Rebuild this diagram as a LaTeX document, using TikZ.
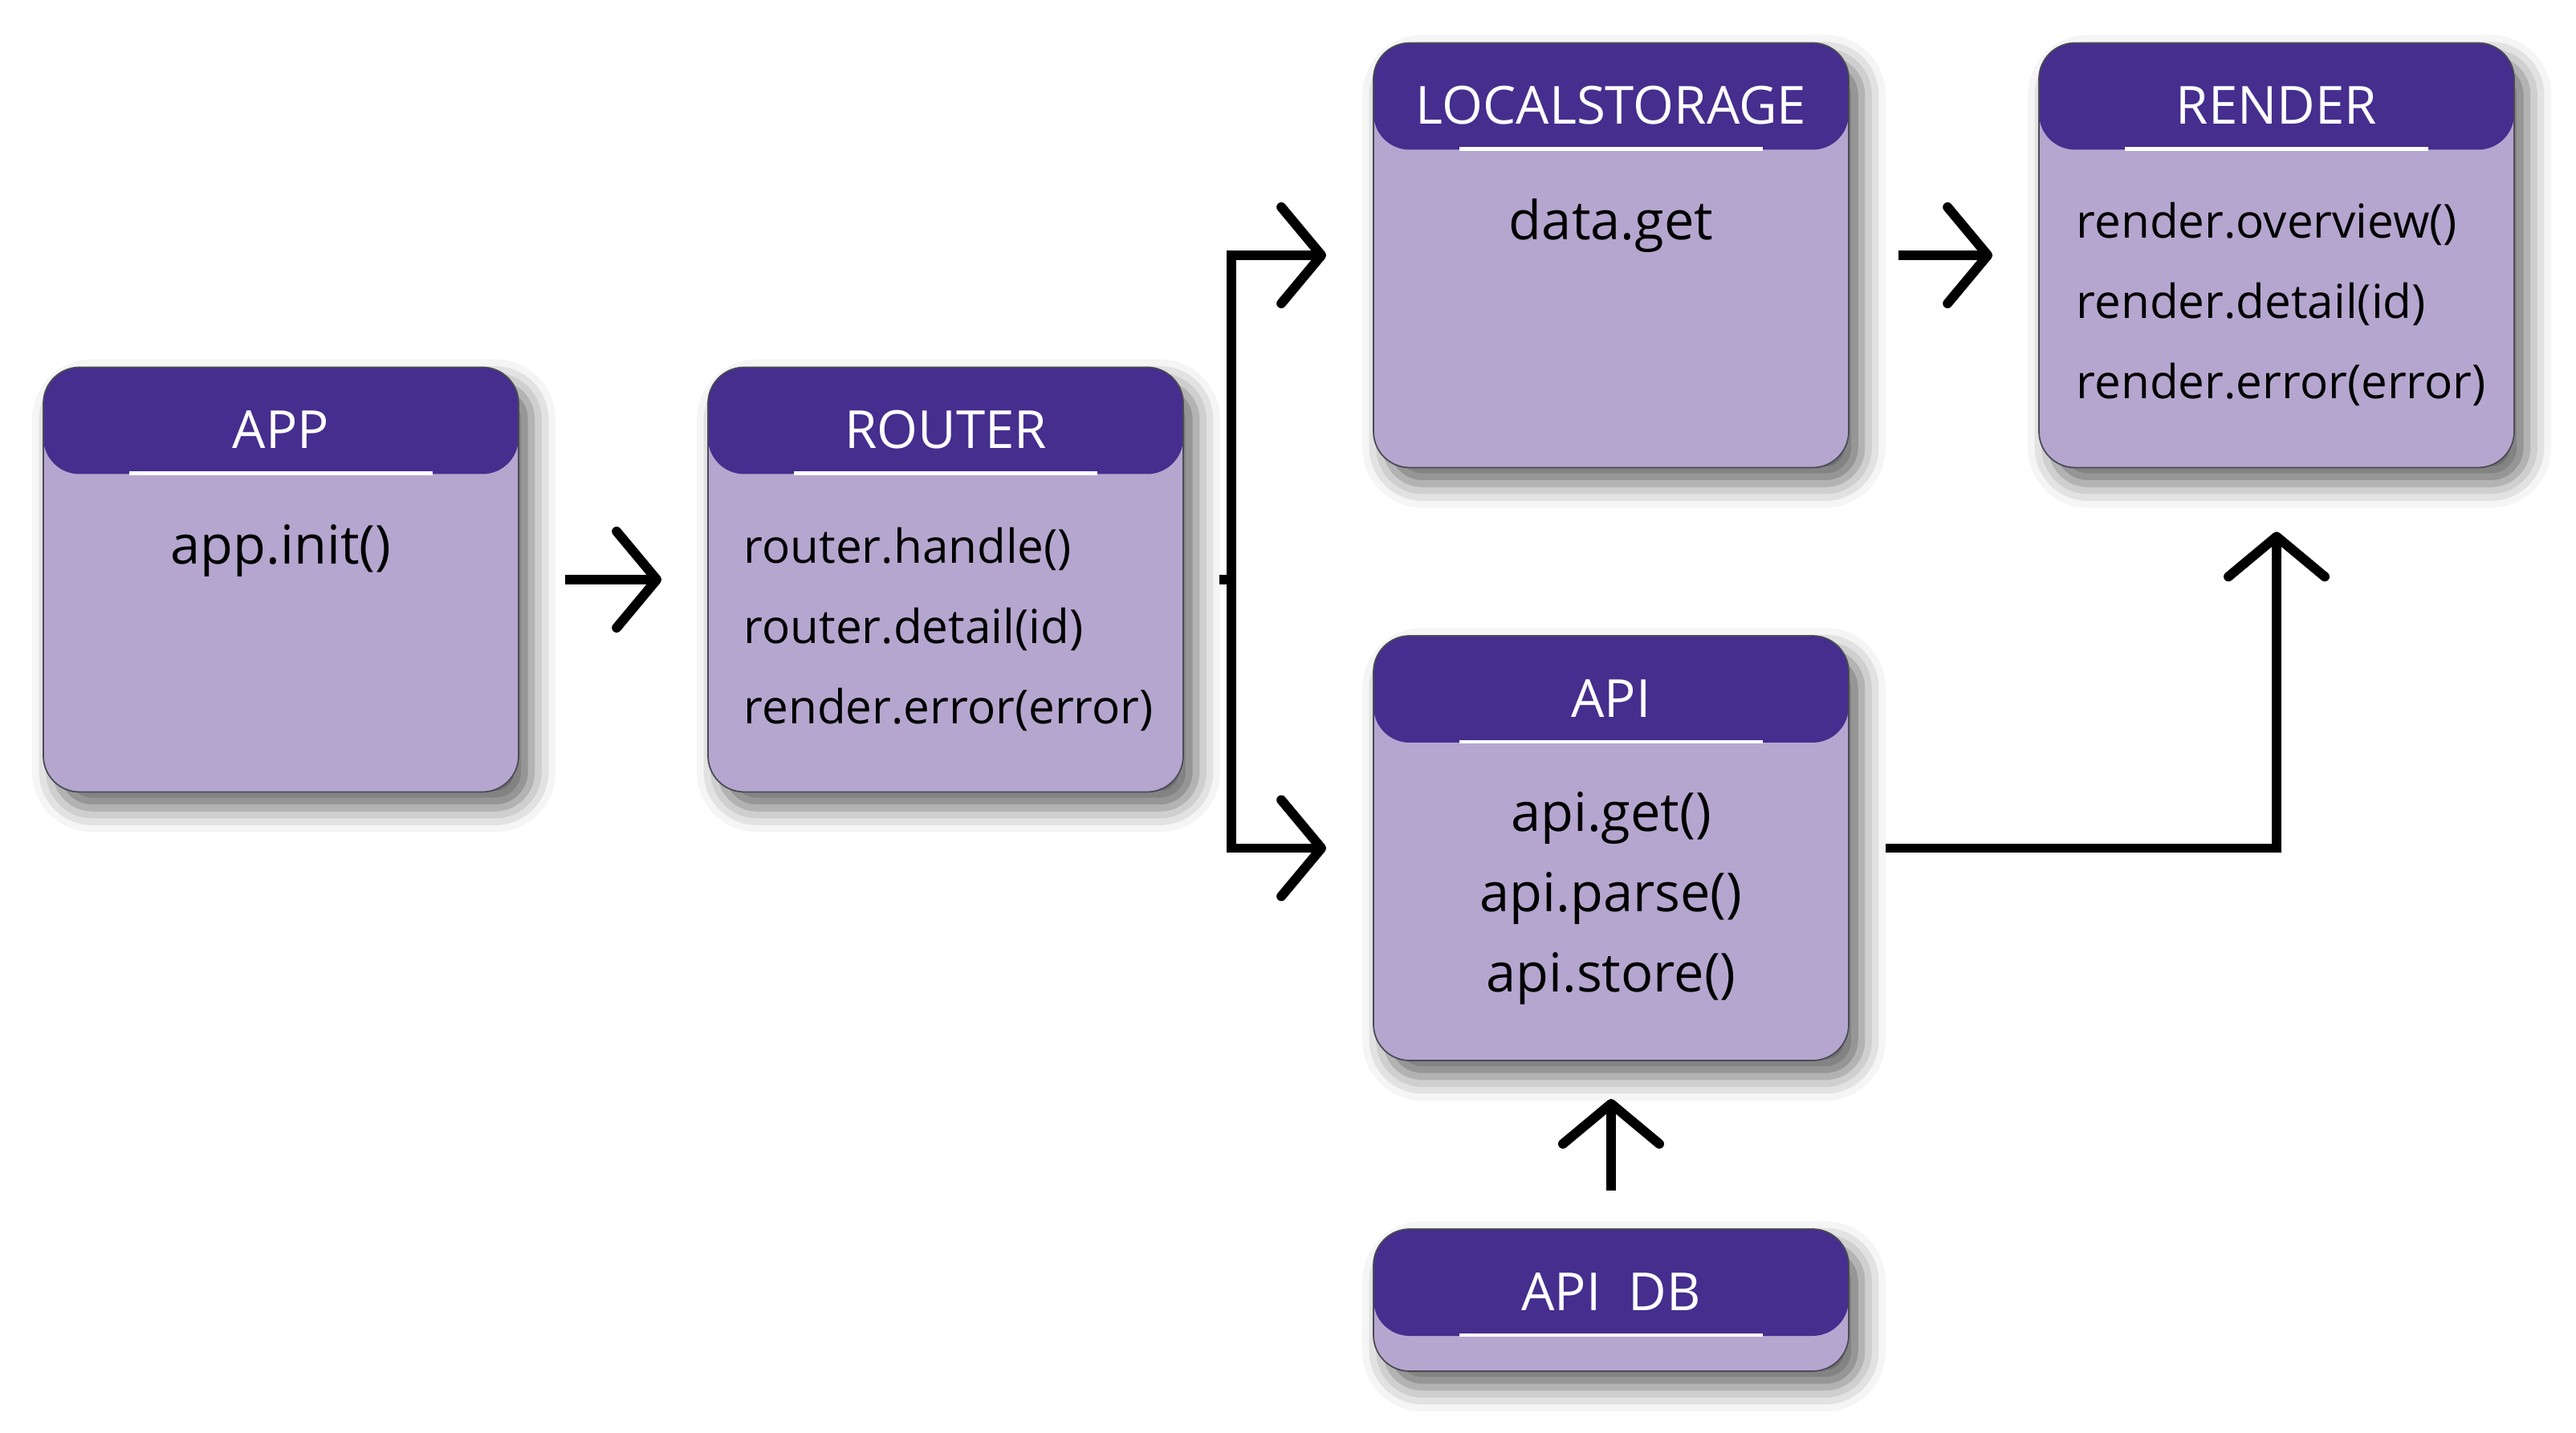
\documentclass[tikz,border=0pt]{standalone}
\usepackage{fontspec}
\setmainfont{Open Sans}
\usetikzlibrary{arrows.meta,shadows.blur}
\definecolor{hdrc}{HTML}{452E8E}
\definecolor{bodyc}{HTML}{B5A6CF}
\definecolor{edgec}{HTML}{4A4A55}
\begin{document}
\begin{tikzpicture}[>={Straight Barb[length=5mm,width=12mm,round]},
    box/.style={draw=edgec, line width=0.5pt, fill=bodyc, rounded corners=0.45cm,
      minimum width=5.92cm, minimum height=5.29cm,
      blur shadow={shadow xshift=0.16cm, shadow yshift=-0.2cm, shadow blur radius=0.3cm, shadow opacity=60},
      path picture={
        \fill[hdrc] (path picture bounding box.north west) rectangle ([yshift=-1.33cm]path picture bounding box.north east);
        \draw[white, line width=1.2pt] ([xshift=-1.89cm,yshift=-1.32cm]path picture bounding box.north) -- ++(3.78cm,0);}},
    ttl/.style={anchor=base, text=white, inner sep=0pt, font=\fontsize{18.6pt}{22pt}\selectfont},
    big/.style={anchor=base, align=center, inner sep=0pt, font=\fontsize{19pt}{1cm}\selectfont},
    small/.style={anchor=base west, align=left, inner sep=0pt, font=\fontsize{16.6pt}{1cm}\selectfont},
    link/.style={line width=3.4pt},
    flow/.style={link, ->}]
  \useasboundingbox (0,0) rectangle (32.09,-17.85);

  % boxes
  \node[box] (app)    at (3.50,-7.22)   {};
  \node[box] (router) at (11.78,-7.22)  {};
  \node[box] (store)  at (20.07,-3.18)  {};
  \node[box] (render) at (28.36,-3.18)  {};
  \node[box] (api)    at (20.07,-10.565) {};
  \node[box, minimum height=1.77cm] (apidb) at (20.07,-16.195) {};

  % titles
  \node[ttl] (appt)    at ([yshift=-1.02cm]app.north)    {APP};
  \node[ttl] (routert) at ([yshift=-1.02cm]router.north) {ROUTER};
  \node[ttl] (storet)  at ([yshift=-1.02cm]store.north)  {LOCALSTORAGE};
  \node[ttl] (rendert) at ([yshift=-1.02cm]render.north) {RENDER};
  \node[ttl] (apit)    at ([yshift=-1.02cm]api.north)    {API};
  \node[ttl] (apidbt)  at ([yshift=-1.02cm]apidb.north)  {API\ \ DB};

  % contents (base = last line)
  \node[big] (appb)   at ([yshift=-2.46cm]app.north)   {app.init()};
  \node[small] (routerb) at ([xshift=0.45cm,yshift=-4.45cm]router.north west)
    {router.handle()\\router.detail(id)\\render.error(error)};
  \node[big] (storeb) at ([yshift=-2.46cm]store.north) {data.get};
  \node[small] (renderb) at ([xshift=0.47cm,yshift=-4.44cm]render.north west)
    {render.overview()\\render.detail(id)\\render.error(error)};
  \node[big] (apib)   at ([yshift=-4.44cm]api.north)
    {api.get()\\api.parse()\\api.store()};

  % connectors
  \coordinate (split) at (15.34,-7.22);
  \draw[flow] ([xshift=0.57cm]app.east) -- ([xshift=-0.57cm]router.west);
  \draw[link] ([xshift=0.44cm]router.east) -- (split);
  \draw[flow] (split) |- ([xshift=-0.58cm]store.west);
  \draw[flow] (split) |- ([xshift=-0.58cm]api.west);
  \draw[flow] ([xshift=0.61cm]store.east) -- ([xshift=-0.57cm]render.west);
  \draw[flow] ([xshift=0.45cm]api.east) -| ([yshift=-0.79cm]render.south);
  \draw[flow] ([yshift=0.47cm]apidb.north) -- ([yshift=-0.47cm]api.south);
\end{tikzpicture}
\end{document}
